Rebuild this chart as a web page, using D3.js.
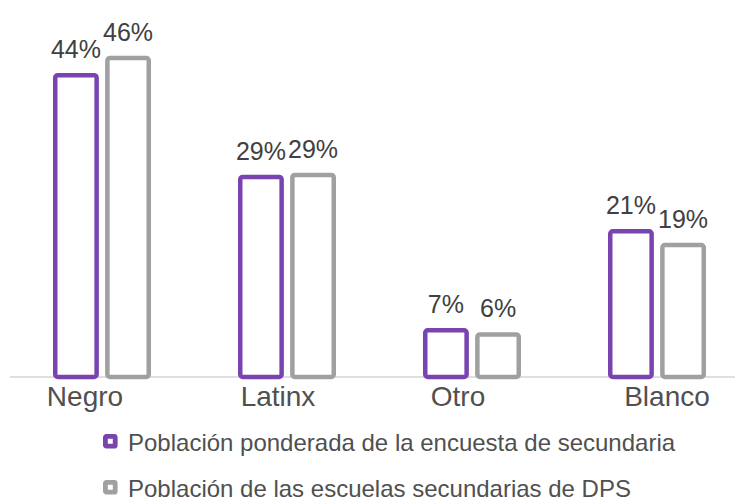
<!DOCTYPE html>
<html><head><meta charset="utf-8">
<script src="https://cdn.jsdelivr.net/npm/d3@7"></script>
<style>html,body{margin:0;padding:0;background:#fff;}</style>
</head><body>
<svg id="c" width="735" height="502"></svg>
<script>
const categories = ["Negro", "Latinx", "Otro", "Blanco"];
const seriesNames = ["Población ponderada de la encuesta de secundaria", "Población de las escuelas secundarias de DPS"];
const surveyValues = [43.9, 29.1, 6.8, 21.2];
const dpsValues = [46.4, 29.4, 6.2, 19.2];
const colors = ["#7944b0", "#a0a0a0"];

// layout (not data): small horizontal nudges of category labels as in the original
const labelNudge = {Negro: -17, Latinx: -9, Otro: -14, Blanco: 10};

const svg = d3.select("#c");
const W = 735, baseY = 377;
const x = d3.scalePoint().domain(categories).range([102, 657]);
const xs = d3.scaleBand().domain([0, 1]).range([-49, 49]).paddingInner(0.12).paddingOuter(0);
const y = d3.scaleLinear().domain([0, 50]).range([baseY, baseY - 50 * 6.875]);

const series = [surveyValues, dpsValues];
const sw = 4.5;

svg.append("line").attr("x1", 10).attr("x2", W).attr("y1", baseY).attr("y2", baseY)
  .attr("stroke", "#d4d4d4").attr("stroke-width", 1.5);

series.forEach((vals, si) => {
  const g = svg.append("g");
  g.selectAll("rect").data(vals).join("rect")
    .attr("x", (d, i) => x(categories[i]) + xs(si) + sw / 2)
    .attr("width", xs.bandwidth() - sw)
    .attr("y", d => y(d))
    .attr("height", d => baseY - y(d))
    .attr("rx", 2.5)
    .attr("fill", "#fff")
    .attr("stroke", colors[si])
    .attr("stroke-width", sw);
  g.selectAll("text").data(vals).join("text")
    .attr("x", (d, i) => x(categories[i]) + xs(si) + xs.bandwidth() / 2)
    .attr("y", d => y(d) - 17)
    .attr("text-anchor", "middle")
    .attr("font-family", "Liberation Sans, Arial, sans-serif")
    .attr("font-size", 25)
    .attr("fill", "#404040")
    .text(d => Math.round(d) + "%");
});

svg.append("g").selectAll("text").data(categories).join("text")
  .attr("x", d => x(d) + labelNudge[d])
  .attr("y", 406)
  .attr("text-anchor", "middle")
  .attr("font-family", "Liberation Sans, Arial, sans-serif")
  .attr("font-size", 28)
  .attr("fill", "#505050")
  .text(d => d);

const lg = svg.append("g").selectAll("g").data(seriesNames).join("g")
  .attr("transform", (d, i) => `translate(103, ${434 + i * 46})`);
lg.append("rect").attr("x", 2.4).attr("y", 2.4).attr("width", 9.8).attr("height", 9.8)
  .attr("fill", "#fff").attr("stroke", (d, i) => colors[i]).attr("stroke-width", 4.8).attr("rx", 1);
lg.append("text").attr("x", 25).attr("y", 17)
  .attr("font-family", "Liberation Sans, Arial, sans-serif")
  .attr("font-size", 24)
  .attr("fill", "#505050")
  .text(d => d);
</script>
</body></html>
